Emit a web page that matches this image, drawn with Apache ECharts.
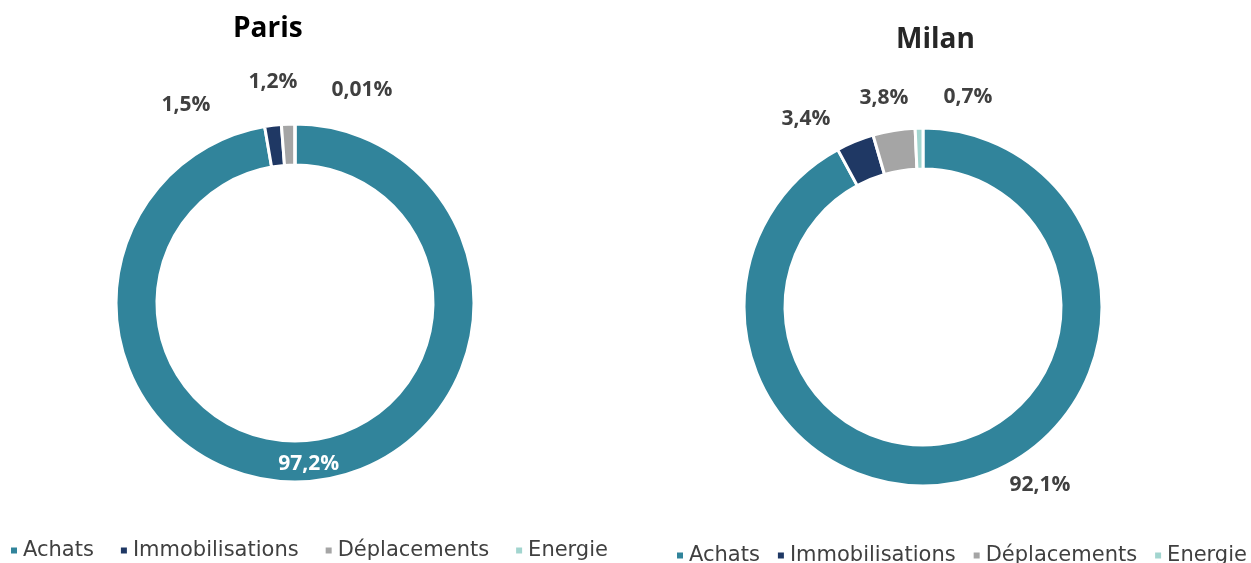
<!DOCTYPE html>
<html>
<head>
<meta charset="utf-8">
<script src="https://cdn.jsdelivr.net/npm/echarts@6/dist/echarts.min.js"></script>
<style>
  html, body { margin: 0; padding: 0; background: #fff; }
  #box { width: 1251px; height: 563px; }
</style>
</head>
<body>
<div id="box"></div>
<script>
var categories = ['Achats', 'Immobilisations', 'Déplacements', 'Energie'];
var parisValues = [97.2, 1.5, 1.2, 0.01];
var milanValues = [92.1, 3.4, 3.8, 0.7];
var parisLabels = ['97,2%', '1,5%', '1,2%', '0,01%'];
var milanLabels = ['92,1%', '3,4%', '3,8%', '0,7%'];

var colors = ['#31849b', '#1f3864', '#a5a5a5', '#a2d5cf'];
var font = '"Open Sans", sans-serif';
var legendFont = '"DejaVu Sans", sans-serif';

// label anchors for outside labels (page px), null = let echarts place it
var labelPos = [
	[null, [186, 105], [273, 82], [362, 90]],
	[[1040, 485], [806, 119], [884, 98], [968, 97]]
];

var chart = echarts.init(document.getElementById('box'));

function makeData(values, labels, insideFirst) {
	return values.map(function (v, i) {
		var inside = insideFirst && i === 0;
		return {
			name: categories[i],
			value: v,
			label: {
				show: true,
				position: inside ? 'inside' : 'outside',
				formatter: labels[i],
				color: inside ? '#ffffff' : '#404040'
			}
		};
	});
}

function pieSeries(idx, center, values, labels, insideFirst) {
	return {
		type: 'pie',
		center: center,
		radius: [138, 179],
		startAngle: 90,
		clockwise: true,
		avoidLabelOverlap: false,
		minAngle: 0,
		itemStyle: { borderColor: '#ffffff', borderWidth: 3 },
		label: {
			fontFamily: font,
			fontWeight: 'bold',
			fontSize: 21
		},
		labelLine: { show: false },
		emphasis: { disabled: true },
		labelLayout: function (params) {
			var p = labelPos[idx][params.dataIndex];
			if (!p) return {};
			return { x: p[0], y: p[1], align: 'center', verticalAlign: 'middle' };
		},
		data: makeData(values, labels, insideFirst)
	};
}

var legendBase = {
	icon: 'rect',
	itemWidth: 8,
	itemHeight: 8,
	orient: 'horizontal',
	width: 640,
	textStyle: { fontFamily: legendFont, fontSize: 21, color: '#404040' },
	data: categories
};

var option = {
	color: colors,
	animation: false,
	title: [
		{
			text: 'Paris', left: 228, top: 10,
			textStyle: { fontFamily: font, fontWeight: 'bold', fontSize: 28, color: '#000000' }
		},
		{
			text: 'Milan', left: 891, top: 21,
			textStyle: { fontFamily: font, fontWeight: 'bold', fontSize: 28, color: '#262626' }
		}
	],
	legend: [
		Object.assign({}, legendBase, { left: 4, top: 535, itemGap: 25 }),
		Object.assign({}, legendBase, { left: 670, top: 540, itemGap: 16 })
	],
	series: [
		pieSeries(0, [295, 303], parisValues, parisLabels, true),
		pieSeries(1, [923, 307], milanValues, milanLabels, false)
	]
};

chart.setOption(option);
</script>
</body>
</html>
